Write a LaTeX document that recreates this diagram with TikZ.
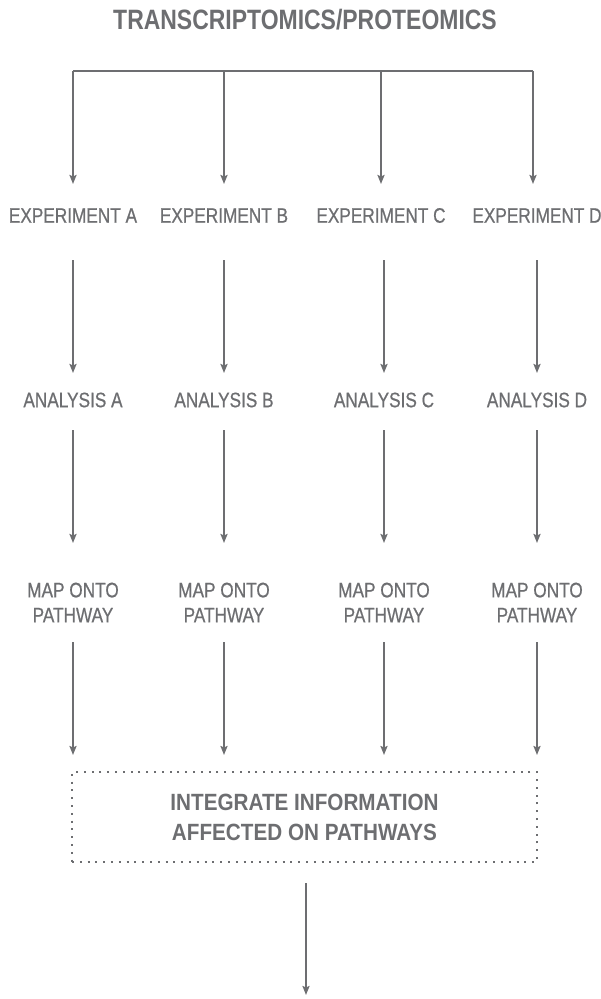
\documentclass[tikz,border=0pt]{standalone}
\usepackage{fontspec}
\setmainfont{Liberation Sans}[FakeStretch=0.82]
\newfontfamily\lblfont{Liberation Sans}[FakeStretch=0.82,FakeBold=0.6]
\newfontfamily\boxfont{Liberation Sans}[FakeStretch=0.88]
\usetikzlibrary{arrows.meta}
\definecolor{ink}{HTML}{6D6E71}
\tikzset{
  lbl/.style={text=ink, font=\lblfont\fontsize{21}{25}\selectfont, align=center, inner sep=0pt},
  hdr/.style={text=ink, font=\bfseries\fontsize{28}{32}\selectfont, align=center, inner sep=0pt},
  boxlbl/.style={text=ink, font=\boxfont\bfseries\fontsize{23.5}{29.5}\selectfont, align=center, inner sep=0pt},
  flow/.style={draw=ink, line width=2pt, -{Stealth[length=9pt,width=7pt,inset=1.5pt]}},
  bar/.style={draw=ink, line width=2pt},
  dotbox/.style={draw=ink, line width=2pt, dash pattern=on 2pt off 5.8pt}
}
\begin{document}
\begin{tikzpicture}[x=1pt,y=-1pt]
\useasboundingbox (0,0) rectangle (600,999);
% heading
\node[hdr] (title) at (305,20) {TRANSCRIPTOMICS/PROTEOMICS};
% branching bar
\coordinate (b1) at (73,71);
\coordinate (b2) at (224,71);
\coordinate (b3) at (381,71);
\coordinate (b4) at (533,71);
\draw[bar] (b1) -- (b4);
\coordinate (t1) at (73,184);
\coordinate (t2) at (224,184);
\coordinate (t3) at (381,184);
\coordinate (t4) at (533,184);
\foreach \i in {1,...,4} \draw[flow] (b\i) -- (t\i);
% experiment row
\node[lbl] (e1) at (73,215.5) {EXPERIMENT A};
\node[lbl] (e2) at (224,215.5) {EXPERIMENT B};
\node[lbl] (e3) at (381,215.5) {EXPERIMENT C};
\node[lbl] (e4) at (537,215.5) {EXPERIMENT D};
% analysis row
\node[lbl] (a1) at (73,400) {ANALYSIS A};
\node[lbl] (a2) at (224,400) {ANALYSIS B};
\node[lbl] (a3) at (384,400) {ANALYSIS C};
\node[lbl] (a4) at (537,400) {ANALYSIS D};
% pathway mapping row
\node[lbl] (m1) at (73,602.5) {MAP ONTO\\PATHWAY};
\node[lbl] (m2) at (224,602.5) {MAP ONTO\\PATHWAY};
\node[lbl] (m3) at (384,602.5) {MAP ONTO\\PATHWAY};
\node[lbl] (m4) at (537,602.5) {MAP ONTO\\PATHWAY};
% integration box
\node[dotbox, minimum width=465pt, minimum height=90pt, inner sep=0pt] (box) at (304.5,817) {};
\node[boxlbl] (boxtxt) at (304.5,817.5) {INTEGRATE INFORMATION\\AFFECTED ON PATHWAYS};
% connectors between the rows
\foreach \i in {1,...,4}{
  \draw[flow] (a\i.center |- 0,260) -- (a\i.center |- 0,373);
  \draw[flow] (a\i.center |- 0,430) -- (m\i.center |- 0,543);
  \draw[flow] (m\i.center |- 0,642) -- (m\i.center |- 0,755);
}
\coordinate (out) at (306,995);
\draw[flow] (box.south -| out) ++(0,20) -- (out);
\end{tikzpicture}
\end{document}
